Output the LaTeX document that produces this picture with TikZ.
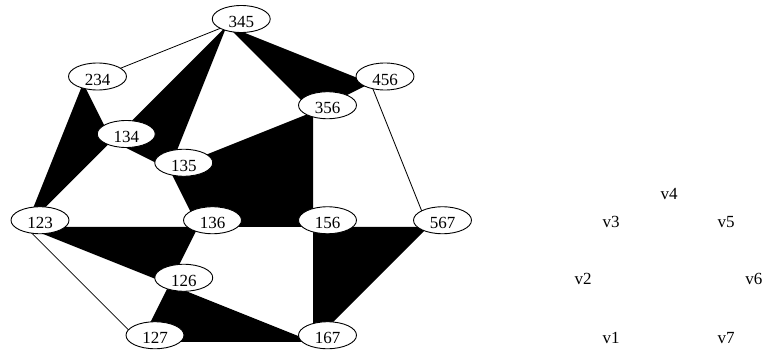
\documentclass[tikz,border=0pt]{standalone}
\usepackage{fontspec}
\setmainfont{Liberation Serif}
\usetikzlibrary{shapes.geometric,backgrounds}
\tikzset{
  vnode/.style={ellipse,draw=black,fill=white,line width=0.9pt,minimum width=58pt,minimum height=27pt,inner sep=0pt,text height=17pt,text depth=0pt,font=\fontsize{17}{20}\selectfont},
  lbl/.style={anchor=base,inner sep=0pt,font=\fontsize{17}{20}\selectfont},
  face/.style={fill=black,draw=none},
  thin/.style={draw=black,line width=0.8pt}
}
\begin{document}
\begin{tikzpicture}[x=1pt,y=-1pt]
\useasboundingbox (0,0) rectangle (763,353);
% nodes (grid unit 28.75)
\node[vnode] (n345) at (241.25,19) {345};
\node[vnode] (n234) at (97.5,76.5) {234};
\node[vnode] (n456) at (385,76.5) {456};
\node[vnode] (n356) at (327.5,105.25) {356};
\node[vnode] (n134) at (126.25,134) {134};
\node[vnode] (n135) at (183.75,162.75) {135};
\node[vnode] (n123) at (40,220.25) {123};
\node[vnode] (n136) at (212.5,220.25) {136};
\node[vnode] (n156) at (327.5,220.25) {156};
\node[vnode] (n567) at (442.5,220.25) {567};
\node[vnode] (n126) at (183.75,277.75) {126};
\node[vnode] (n127) at (155,335.25) {127};
\node[vnode] (n167) at (327.5,335.25) {167};
% offset drawing points
\foreach \n in {345,234,456,356,134,135,123,136,156,567,126,127,167}{
  \coordinate (p\n) at ([shift={(-14.4pt,-6.7pt)}]n\n.center);
}
\begin{scope}[on background layer]
\fill[face] (p234) -- (p134) -- (p123) -- cycle;
\fill[face] (p345) -- (p134) -- (p135) -- cycle;
\fill[face] (p345) -- (p356) -- (p456) -- cycle;
\fill[face] (p135) -- (p356) -- (p156) -- (p136) -- cycle;
\fill[face] (p123) -- (p136) -- (p126) -- cycle;
\fill[face] (p156) -- (p567) -- (p167) -- cycle;
\fill[face] (p126) -- (p167) -- (p127) -- cycle;
\draw[thin] (p345) -- (p234);
\draw[thin] (p456) -- (p567);
\draw[thin] (p123) -- (p127);
\end{scope}
% labels
\node[lbl] (v4) at (669,199.3) {v4};
\node[lbl] (v3) at (611,227.3) {v3};
\node[lbl] (v5) at (726,227.3) {v5};
\node[lbl] (v2) at (583,284) {v2};
\node[lbl,anchor=base east] (v6) at (762.5,284) {v6};
\node[lbl] (v1) at (611,343.3) {v1};
\node[lbl] (v7) at (726,343.3) {v7};
\end{tikzpicture}
\end{document}
